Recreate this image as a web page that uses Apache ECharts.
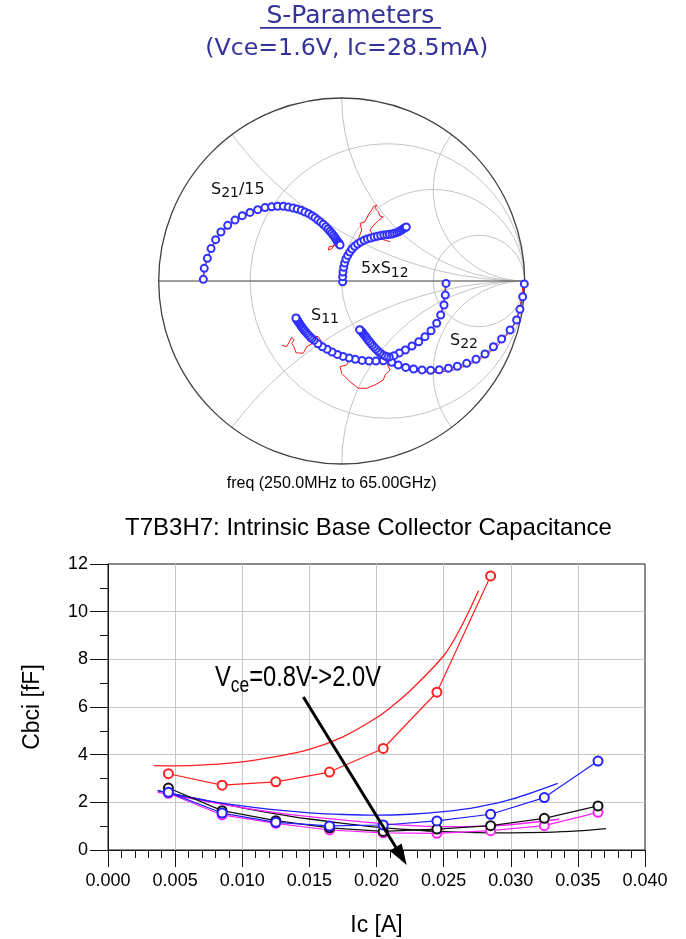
<!DOCTYPE html>
<html>
<head>
<meta charset="utf-8">
<script src="https://cdn.jsdelivr.net/npm/echarts@6/dist/echarts.min.js"></script>
<style>
  html, body { margin: 0; padding: 0; background: #fff; }
  #chart { width: 686px; height: 939px; }
</style>
</head>
<body>
<div id="chart"></div>
<script>
// ---------- Smith chart: reflection coefficients [real, imag] ----------
const s21Meas = [
  [-0.756,0.009],[-0.751,0.069],[-0.734,0.124],[-0.714,0.177],[-0.689,0.226],[-0.660,0.268],
  [-0.623,0.304],[-0.583,0.333],[-0.543,0.357],[-0.501,0.375],[-0.459,0.390],[-0.419,0.401],
  [-0.383,0.406],[-0.350,0.408],[-0.319,0.408],[-0.292,0.404],[-0.266,0.399],[-0.243,0.393],
  [-0.221,0.386],[-0.201,0.377],[-0.180,0.368],[-0.162,0.357],[-0.146,0.346],[-0.130,0.333],
  [-0.115,0.322],[-0.101,0.310],[-0.087,0.297],[-0.075,0.284],[-0.064,0.272],[-0.055,0.261],
  [-0.046,0.250],[-0.038,0.239],[-0.031,0.230],[-0.026,0.220],[-0.020,0.213],[-0.016,0.208],
  [-0.013,0.202],[-0.009,0.197]
];
const s21Model = [
  [-0.756,0.009],[-0.747,0.078],[-0.720,0.160],[-0.674,0.242],[-0.601,0.315],[-0.510,0.366],
  [-0.419,0.397],[-0.346,0.403],[-0.292,0.392],[-0.237,0.373],[-0.183,0.351],[-0.137,0.324],
  [-0.101,0.297],[-0.073,0.269],[-0.051,0.239],[-0.037,0.209],[-0.046,0.191],[-0.069,0.187],
  [-0.073,0.169],[-0.055,0.175],[-0.040,0.195],[-0.026,0.187]
];
const s12Meas = [
  [0.005,-0.004],[0.005,0.023],[0.007,0.049],[0.011,0.075],[0.016,0.098],[0.023,0.120],
  [0.033,0.140],[0.044,0.158],[0.056,0.175],[0.071,0.190],[0.087,0.202],[0.104,0.213],
  [0.122,0.222],[0.140,0.230],[0.158,0.235],[0.177,0.240],[0.195,0.244],[0.213,0.248],
  [0.230,0.251],[0.246,0.253],[0.260,0.255],[0.275,0.257],[0.287,0.261],[0.300,0.264],
  [0.311,0.269],[0.320,0.275],[0.330,0.280],[0.337,0.286],[0.344,0.290],[0.350,0.293],
  [0.353,0.295]
];
const s12Model = [
  [0.005,0.000],[0.008,0.050],[0.017,0.098],[0.033,0.140],[0.050,0.170],[0.075,0.200],
  [0.095,0.240],[0.109,0.279],[0.100,0.315],[0.127,0.324],[0.145,0.361],[0.164,0.388],
  [0.173,0.406],[0.191,0.415],[0.182,0.397],[0.200,0.379],[0.209,0.355],[0.227,0.351],
  [0.200,0.330],[0.170,0.300],[0.155,0.279],[0.173,0.242],[0.220,0.228],[0.264,0.215]
];
const s11Meas = [
  [0.998,-0.016],[0.989,-0.086],[0.974,-0.155],[0.956,-0.213],[0.920,-0.268],[0.874,-0.317],
  [0.829,-0.359],[0.783,-0.399],[0.734,-0.428],[0.683,-0.450],[0.632,-0.466],[0.583,-0.477],
  [0.533,-0.485],[0.486,-0.488],[0.439,-0.486],[0.393,-0.481],[0.350,-0.472],[0.309,-0.459],
  [0.273,-0.444],[0.227,-0.436],[0.187,-0.437],[0.149,-0.437],[0.111,-0.434],[0.074,-0.428],
  [0.040,-0.421],[0.007,-0.412],[-0.024,-0.401],[-0.053,-0.388],[-0.080,-0.373],[-0.106,-0.359],
  [-0.130,-0.343],[-0.151,-0.324],[-0.163,-0.315],[-0.172,-0.306],[-0.181,-0.296],[-0.190,-0.286],
  [-0.198,-0.277],[-0.206,-0.268],[-0.212,-0.259],[-0.219,-0.250],[-0.225,-0.241],[-0.230,-0.233],
  [-0.235,-0.226],[-0.239,-0.220],[-0.243,-0.214],[-0.246,-0.209],[-0.248,-0.205],[-0.250,-0.202]
];
const s11Model = [
  [0.995,-0.005],[0.989,-0.031],[0.984,-0.086],[0.971,-0.158],[0.947,-0.231],[0.910,-0.286],
  [0.847,-0.359],[0.774,-0.414],[0.701,-0.454],[0.610,-0.486],[0.519,-0.501],[0.428,-0.496],
  [0.355,-0.483],[0.300,-0.464],[0.264,-0.441],[0.255,-0.423],[0.249,-0.454],[0.264,-0.486],
  [0.237,-0.514],[0.227,-0.541],[0.182,-0.568],[0.137,-0.586],[0.091,-0.586],[0.045,-0.550],
  [0.000,-0.504],[-0.009,-0.468],[0.027,-0.459],[0.049,-0.417],[0.013,-0.404],[-0.027,-0.423],
  [-0.046,-0.377],[-0.073,-0.359],[-0.104,-0.340],[-0.128,-0.304],[-0.146,-0.301],[-0.158,-0.340],
  [-0.191,-0.359],[-0.210,-0.395],[-0.250,-0.392],[-0.261,-0.359],[-0.273,-0.340],[-0.261,-0.322],
  [-0.273,-0.308],[-0.283,-0.326],[-0.301,-0.359],[-0.328,-0.350]
];
const s22Meas = [
  [0.570,-0.013],[0.566,-0.077],[0.559,-0.131],[0.541,-0.186],[0.519,-0.231],[0.488,-0.272],
  [0.455,-0.304],[0.421,-0.332],[0.384,-0.355],[0.348,-0.377],[0.315,-0.393],[0.286,-0.408],
  [0.260,-0.415],[0.246,-0.414],[0.233,-0.408],[0.220,-0.401],[0.209,-0.392],[0.198,-0.383],
  [0.187,-0.372],[0.177,-0.361],[0.167,-0.350],[0.158,-0.339],[0.149,-0.328],[0.140,-0.317],
  [0.133,-0.306],[0.126,-0.297],[0.118,-0.288],[0.113,-0.280],[0.107,-0.275],[0.102,-0.269],
  [0.098,-0.266]
];
const s22Model = [
  [0.568,-0.005],[0.563,-0.080],[0.553,-0.135],[0.536,-0.190],[0.513,-0.236],[0.482,-0.276],
  [0.450,-0.308],[0.416,-0.336],[0.380,-0.360],[0.344,-0.381],[0.310,-0.398],[0.280,-0.411],
  [0.262,-0.425],[0.250,-0.432],[0.245,-0.418],[0.236,-0.407],[0.200,-0.383],[0.165,-0.345],
  [0.133,-0.305],[0.100,-0.268]
];

// Smith grid: constant-resistance circles and constant-reactance arcs
const resistanceCircles = [1 / 3, 1, 3];
const reactanceArcs = [0.5, 1, 2];

// ---------- Cbci versus collector current ----------
const icPoints = [0.0045, 0.0085, 0.0125, 0.0165, 0.0205, 0.0245, 0.0285, 0.0325, 0.0365];
const cbciRed     = [3.20, 2.72, 2.86, 3.27, 4.26, 6.62, 11.50];
const cbciBlue    = [2.42, 1.55, 1.16, 1.01, 1.05, 1.22, 1.50, 2.20, 3.73];
const cbciBlack   = [2.60, 1.65, 1.23, 0.93, 0.78, 0.88, 1.02, 1.33, 1.85];
const cbciMagenta = [2.38, 1.47, 1.12, 0.84, 0.72, 0.70, 0.81, 1.02, 1.58];

const modelRed = [[0.0034,3.54],[0.005,3.53],[0.0075,3.58],[0.010,3.70],[0.0125,3.92],[0.015,4.22],
  [0.0175,4.75],[0.020,5.55],[0.0212,6.05],[0.0225,6.68],[0.025,8.15],[0.0262,9.25],[0.0276,10.88]];
const modelBlue = [[0.0037,2.49],[0.005,2.33],[0.0075,2.06],[0.010,1.85],[0.0125,1.68],[0.015,1.56],
  [0.0175,1.49],[0.020,1.46],[0.0225,1.50],[0.025,1.61],[0.0275,1.80],[0.030,2.12],[0.0335,2.80]];
const modelMagenta = [[0.0037,2.42],[0.0075,2.02],[0.010,1.78],[0.0125,1.57],[0.015,1.40],[0.0175,1.26],
  [0.020,1.13],[0.0225,1.03],[0.025,0.98],[0.0275,0.99],[0.030,1.06],[0.0336,1.29]];
const modelBlack = [[0.0037,2.49],[0.0075,2.05],[0.010,1.77],[0.0125,1.52],[0.015,1.30],[0.0175,1.12],
  [0.020,0.96],[0.0225,0.85],[0.025,0.77],[0.0275,0.73],[0.030,0.72],[0.0325,0.74],[0.035,0.80],[0.0371,0.90]];

// Vce sweep arrow (data coordinates of tail and tip)
const sweepArrowTail = [0.01455, 6.42];
const sweepArrowTip = [0.02225, -0.63];

const SANS = 'Liberation Sans, Arial, sans-serif';
const VERD = 'DejaVu Sans, Verdana, sans-serif';
const BLUE = '#3030ff';
const RED = '#ff1a1a';

const pairs = (xs, ys) => ys.map((y, i) => [xs[i], y]);

const chart = echarts.init(document.getElementById('chart'), null, { renderer: 'canvas' });

function measuredTrace(data) {
  return {
    type: 'line', xAxisIndex: 0, yAxisIndex: 0, data: data, clip: false, silent: true,
    symbol: 'emptyCircle', symbolSize: 7, showSymbol: true,
    lineStyle: { color: BLUE, width: 1 },
    itemStyle: { color: BLUE, borderColor: BLUE, borderWidth: 0.8 },
    z: 4
  };
}
function modelTrace(data) {
  return {
    type: 'line', xAxisIndex: 0, yAxisIndex: 0, data: data, clip: false, silent: true,
    symbol: 'none', showSymbol: false,
    lineStyle: { color: RED, width: 1 }, z: 3
  };
}
function capData(xs, ys, color) {
  return {
    type: 'line', xAxisIndex: 1, yAxisIndex: 1, data: pairs(xs, ys), silent: true,
    symbol: 'emptyCircle', symbolSize: 9, showSymbol: true,
    lineStyle: { color: color, width: 1.2 },
    itemStyle: { color: color, borderColor: color, borderWidth: 1.2 }, z: 5
  };
}
function capModel(data, color) {
  return {
    type: 'line', xAxisIndex: 1, yAxisIndex: 1, data: data, silent: true,
    smooth: 0.35,
    symbol: 'none', showSymbol: false,
    lineStyle: { color: color, width: 1.3 }, z: 4
  };
}

const axisDark = '#151515';

chart.setOption({
  animation: false,
  textStyle: { fontFamily: SANS },
  grid: [
    { left: 158.7, top: 98, width: 366, height: 366, show: false, outerBoundsMode: 'none' },
    { left: 108, top: 564, width: 537, height: 286, show: true, borderColor: axisDark, borderWidth: 1,
      backgroundColor: 'transparent', outerBoundsMode: 'none' }
  ],
  xAxis: [
    { gridIndex: 0, type: 'value', min: -1, max: 1, show: false },
    {
      gridIndex: 1, type: 'value', min: 0, max: 0.04, interval: 0.005,
      name: 'Ic [A]', nameLocation: 'middle', nameGap: 64,
      nameTextStyle: { fontSize: 23, color: '#000', fontFamily: SANS },
      axisLine: { show: true, onZero: false, lineStyle: { color: axisDark, width: 1 } },
      axisTick: { show: true, length: 17, lineStyle: { color: axisDark, width: 1 } },
      minorTick: { show: true, splitNumber: 5, length: 8, lineStyle: { color: axisDark, width: 1 } },
      splitLine: { show: true, showMinLine: false, showMaxLine: false, lineStyle: { color: '#c6c6c6', width: 1 } },
      axisLabel: { fontSize: 18, color: '#000', margin: 22, fontFamily: SANS,
        formatter: v => v.toFixed(3) }
    }
  ],
  yAxis: [
    { gridIndex: 0, type: 'value', min: -1, max: 1, show: false },
    {
      gridIndex: 1, type: 'value', min: 0, max: 12, interval: 2,
      name: 'Cbci [fF]', nameLocation: 'middle', nameGap: 64,
      nameTextStyle: { fontSize: 23, color: '#000', fontFamily: SANS },
      axisLine: { show: true, onZero: false, lineStyle: { color: axisDark, width: 1 } },
      axisTick: { show: true, length: 18, lineStyle: { color: axisDark, width: 1 } },
      minorTick: { show: true, splitNumber: 2, length: 8, lineStyle: { color: axisDark, width: 1 } },
      splitLine: { show: true, showMinLine: false, showMaxLine: false, lineStyle: { color: '#c6c6c6', width: 1 } },
      axisLabel: { fontSize: 18, color: '#000', margin: 20, fontFamily: SANS }
    }
  ],
  series: [
    modelTrace(s21Model), measuredTrace(s21Meas),
    modelTrace(s12Model), measuredTrace(s12Meas),
    modelTrace(s11Model), measuredTrace(s11Meas),
    modelTrace(s22Model), measuredTrace(s22Meas),

    capModel(modelBlack, '#111111'),
    capModel(modelMagenta, '#ff22ff'),
    capModel(modelBlue, '#2020ff'),
    capModel(modelRed, '#ff2020'),
    capData(icPoints, cbciMagenta, '#ff22ff'),
    capData(icPoints, cbciBlack, '#111111'),
    capData(icPoints, cbciBlue, '#2020ff'),
    capData(icPoints, cbciRed, '#ff2020')
  ]
});

// ---------- overlay: Smith grid, titles, labels, sweep arrow ----------
function buildOverlay() {
  const P = (re, im) => chart.convertToPixel({ gridIndex: 0 }, [re, im]);
  const Q = (pt) => chart.convertToPixel({ gridIndex: 1 }, pt);
  const c = P(0, 0);
  const R = P(1, 0)[0] - c[0];
  const els = [];
  const gridStyle = { stroke: '#c3c3c3', lineWidth: 1, fill: 'none' };

  resistanceCircles.forEach(r => {
    const ctr = P(r / (1 + r), 0);
    els.push({ type: 'circle', silent: true, z: 1,
      shape: { cx: ctr[0], cy: ctr[1], r: R / (1 + r) }, style: gridStyle });
  });
  reactanceArcs.forEach(x => [x, -x].forEach(xx => {
    const ctr = P(1, 1 / xx);
    const a = P(1, 0);
    const b = P((xx * xx - 1) / (xx * xx + 1), 2 * xx / (xx * xx + 1));
    const a1 = Math.atan2(a[1] - ctr[1], a[0] - ctr[0]);
    const a2 = Math.atan2(b[1] - ctr[1], b[0] - ctr[0]);
    let d = a2 - a1;
    while (d > Math.PI) d -= 2 * Math.PI;
    while (d < -Math.PI) d += 2 * Math.PI;
    const start = d > 0 ? a1 : a2;
    els.push({ type: 'arc', silent: true, z: 1,
      shape: { cx: ctr[0], cy: ctr[1], r: R / Math.abs(xx), startAngle: start, endAngle: start + Math.abs(d), clockwise: true },
      style: gridStyle });
  }));
  els.push({ type: 'circle', silent: true, z: 2,
    shape: { cx: c[0], cy: c[1], r: R }, style: { stroke: '#404040', lineWidth: 1.3, fill: 'none' } });
  els.push({ type: 'line', silent: true, z: 2,
    shape: { x1: c[0] - R, y1: c[1], x2: c[0] + R, y2: c[1] }, style: { stroke: '#404040', lineWidth: 1.2 } });

  // headings
  els.push({ type: 'text', x: 350.4, y: 3.5, z: 10,
    style: { text: 'S-Parameters', font: '25px ' + VERD, fill: '#333399', align: 'center', verticalAlign: 'top' } });
  els.push({ type: 'line', z: 10, shape: { x1: 260, y1: 27.8, x2: 441, y2: 27.8 },
    style: { stroke: '#333399', lineWidth: 1.8 } });
  els.push({ type: 'text', x: 346.7, y: 37, z: 10,
    style: { text: '(Vce=1.6V, Ic=28.5mA)', font: '23.7px ' + VERD, fill: '#333399', align: 'center', verticalAlign: 'top' } });
  els.push({ type: 'text', x: 331.7, y: 475.5, z: 10,
    style: { text: 'freq (250.0MHz to 65.00GHz)', font: '16px ' + SANS, fill: '#000', align: 'center', verticalAlign: 'top' } });
  els.push({ type: 'text', x: 368.5, y: 516.4, z: 10,
    style: { text: 'T7B3H7: Intrinsic Base Collector Capacitance', font: '24px ' + SANS, fill: '#000', align: 'center', verticalAlign: 'top' } });

  // trace labels with subscripts
  const subRich = {
    m: { fontSize: 16, fontFamily: VERD, fill: '#111', lineHeight: 19, verticalAlign: 'top' },
    s: { fontSize: 14, fontFamily: VERD, fill: '#111', lineHeight: 14, verticalAlign: 'bottom' }
  };
  const traceLabels = [
    { x: 211, y: 181.5, t: '{m|S}{s|21}{m|/15}' },
    { x: 361, y: 260.9, t: '{m|5xS}{s|12}' },
    { x: 311, y: 307.5, t: '{m|S}{s|11}' },
    { x: 450, y: 332.5, t: '{m|S}{s|22}' }
  ];
  traceLabels.forEach(l => els.push({ type: 'text', x: l.x, y: l.y, z: 10,
    style: { text: l.t, rich: subRich, align: 'left', verticalAlign: 'top' } }));

  // Vce sweep annotation
  els.push({ type: 'text', x: 215, y: 663, z: 20, scaleX: 0.79,
    style: { text: '{a|V}{b|ce}{a|=0.8V->2.0V}', align: 'left', verticalAlign: 'top',
      rich: {
        a: { fontSize: 30, fontFamily: SANS, fill: '#000', lineHeight: 34, verticalAlign: 'top' },
        b: { fontSize: 22, fontFamily: SANS, fill: '#000', lineHeight: 22, verticalAlign: 'bottom' }
      } } });
  const tail = Q(sweepArrowTail), tip = Q(sweepArrowTip);
  const dx = tip[0] - tail[0], dy = tip[1] - tail[1];
  const len = Math.hypot(dx, dy), ux = dx / len, uy = dy / len;
  const headLen = 21, headHalf = 7;
  const bx = tip[0] - ux * headLen, by = tip[1] - uy * headLen;
  els.push({ type: 'line', z: 20, shape: { x1: tail[0], y1: tail[1], x2: bx + ux * 2, y2: by + uy * 2 },
    style: { stroke: '#000', lineWidth: 3 } });
  els.push({ type: 'polygon', z: 20,
    shape: { points: [[tip[0], tip[1]], [bx - uy * headHalf, by + ux * headHalf], [bx + uy * headHalf, by - ux * headHalf]] },
    style: { fill: '#000' } });

  chart.setOption({ graphic: { elements: els } });
}
buildOverlay();
</script>
</body>
</html>
